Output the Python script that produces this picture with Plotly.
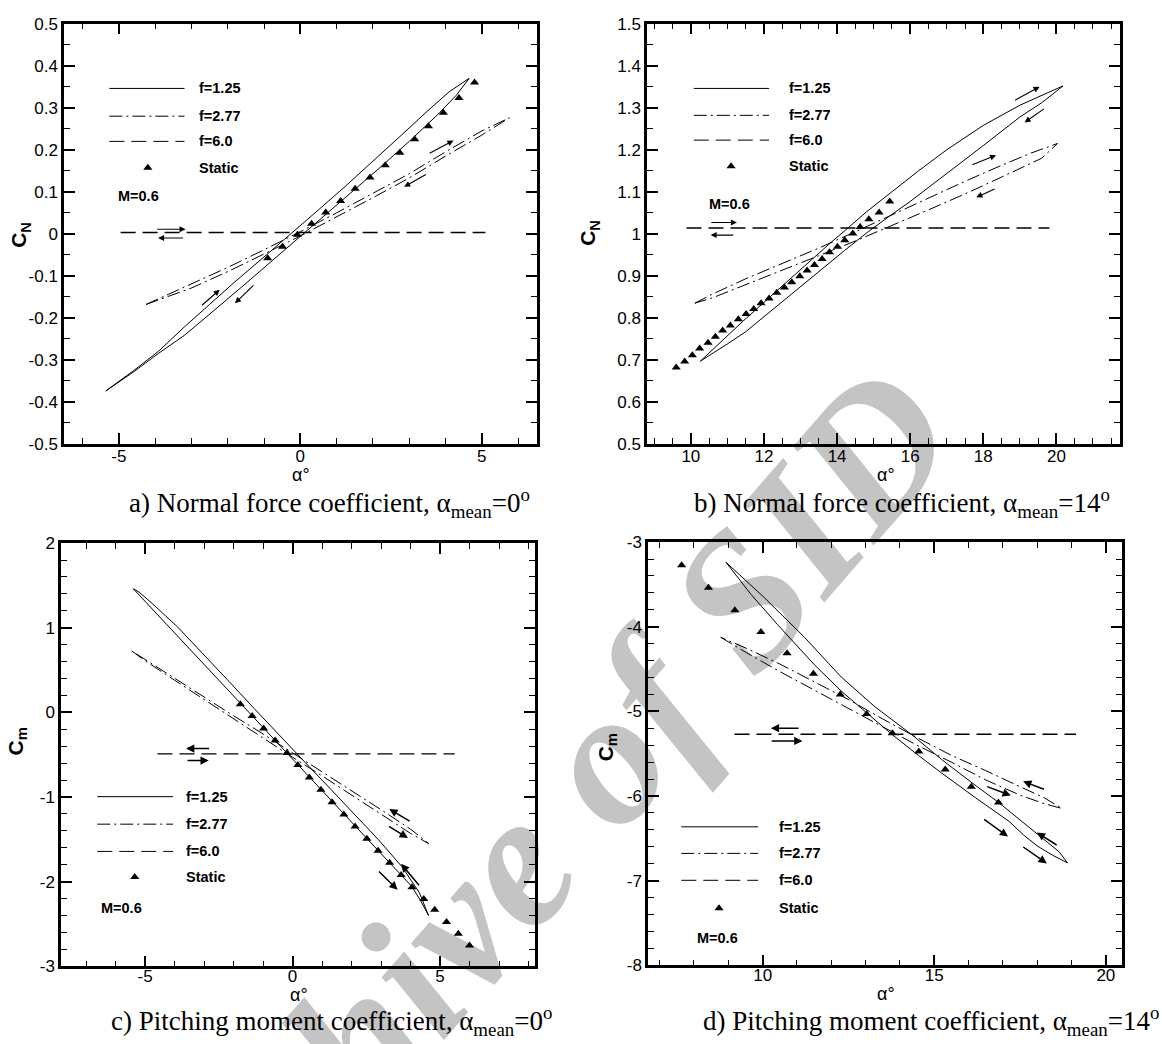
import plotly.graph_objects as go

W, H = 1162, 1044

# ---------------- data ----------------
# Panel a : CN, alpha_mean = 0
a_static_x = [-0.90, -0.49, -0.08, 0.31, 0.70, 1.11, 1.51, 1.92, 2.34, 2.74, 3.15, 3.53, 3.94, 4.37, 4.80]
a_static_y = [-0.058, -0.031, -0.002, 0.024, 0.051, 0.078, 0.107, 0.134, 0.163, 0.193, 0.225, 0.256, 0.288, 0.323, 0.360]
a125_up_x = [-5.36, -4.6, -3.9, -3.2, -2.5, -1.8, -1.0, -0.2, 0.5, 1.2, 2.0, 2.8, 3.5, 4.1, 4.65]
a125_up_y = [-0.374, -0.326, -0.279, -0.222, -0.168, -0.114, -0.055, 0.004, 0.057, 0.110, 0.172, 0.236, 0.292, 0.338, 0.370]
a125_dn_x = [4.65, 4.3, 3.8, 3.0, 2.2, 1.4, 0.6, 0.2, -0.6, -1.5, -2.4, -3.2, -3.9, -4.6, -5.36]
a125_dn_y = [0.370, 0.330, 0.285, 0.220, 0.158, 0.098, 0.040, 0.008, -0.052, -0.118, -0.184, -0.242, -0.284, -0.329, -0.374]
a277_up_x = [-4.25, -3.0, -2.0, -1.0, 0.0, 1.0, 2.0, 3.0, 4.0, 5.0, 5.76]
a277_up_y = [-0.168, -0.119, -0.080, -0.038, 0.005, 0.050, 0.096, 0.143, 0.195, 0.245, 0.276]
a277_dn_x = [5.76, 5.0, 4.0, 3.0, 2.0, 1.0, 0.0, -1.0, -2.0, -3.0, -4.25]
a277_dn_y = [0.276, 0.235, 0.185, 0.133, 0.086, 0.040, -0.005, -0.048, -0.090, -0.129, -0.168]
a600_x = [-4.95, 5.10]
a600_y = [0.003, 0.003]

# Panel b : CN, alpha_mean = 14
b_static_x = [9.60, 9.83, 10.04, 10.24, 10.47, 10.67, 10.87, 11.08, 11.30, 11.51, 11.72, 11.92, 12.14, 12.35,
              12.56, 12.76, 12.98, 13.18, 13.38, 13.59, 13.79, 14.01, 14.21, 14.43, 14.63, 14.87, 15.15, 15.44]
b_static_y = [0.682, 0.696, 0.711, 0.727, 0.741, 0.755, 0.770, 0.782, 0.797, 0.809, 0.821, 0.835, 0.846, 0.860,
              0.872, 0.885, 0.899, 0.913, 0.926, 0.940, 0.956, 0.969, 0.985, 1.001, 1.016, 1.035, 1.051, 1.077]
b125_up_x = [10.26, 10.8, 11.4, 12.0, 12.6, 13.2, 13.8, 14.3, 14.8, 15.5, 16.2, 17.0, 18.0, 19.0, 19.6, 20.18]
b125_up_y = [0.697, 0.742, 0.790, 0.837, 0.884, 0.931, 0.977, 1.014, 1.052, 1.100, 1.148, 1.200, 1.258, 1.306, 1.330, 1.352]
b125_dn_x = [20.18, 19.6, 19.0, 18.0, 17.0, 16.0, 15.4, 14.85, 14.2, 13.5, 12.8, 12.2, 11.5, 11.0, 10.6, 10.26]
b125_dn_y = [1.352, 1.312, 1.278, 1.210, 1.143, 1.077, 1.040, 1.005, 0.960, 0.910, 0.860, 0.816, 0.767, 0.738, 0.716, 0.697]
b277_up_x = [10.11, 10.6, 11.5, 12.5, 13.5, 14.5, 15.5, 16.5, 17.5, 18.5, 19.3, 20.03]
b277_up_y = [0.835, 0.857, 0.893, 0.930, 0.966, 1.005, 1.045, 1.085, 1.125, 1.163, 1.192, 1.215]
b277_dn_x = [20.03, 19.6, 18.5, 17.5, 16.5, 15.5, 14.5, 13.5, 12.5, 11.5, 10.6, 10.11]
b277_dn_y = [1.215, 1.180, 1.135, 1.095, 1.057, 1.020, 0.983, 0.948, 0.913, 0.878, 0.848, 0.835]
b600_x = [9.88, 19.81]
b600_y = [1.014, 1.014]

# Panel c : Cm, alpha_mean = 0
c_static_x = [-1.77, -1.37, -0.98, -0.59, -0.19, 0.18, 0.57, 0.96, 1.34, 1.74, 2.12, 2.52, 2.90, 3.29, 3.68,
              4.05, 4.45, 4.82, 5.22, 5.62, 6.00]
c_static_y = [0.097, -0.043, -0.191, -0.331, -0.479, -0.623, -0.771, -0.915, -1.063, -1.208, -1.348, -1.492,
              -1.636, -1.776, -1.921, -2.065, -2.205, -2.333, -2.476, -2.615, -2.754]
c125_up_x = [-5.40, -4.8, -4.0, -3.2, -2.4, -1.77, -1.0, -0.3, 0.3, 1.0, 1.8, 2.6, 3.4, 4.05, 4.35, 4.61]
c125_up_y = [1.461, 1.238, 0.938, 0.638, 0.338, 0.105, -0.180, -0.440, -0.660, -0.920, -1.215, -1.510, -1.808,
             -2.060, -2.230, -2.400]
c125_dn_x = [4.61, 4.3, 3.7, 2.9, 2.1, 1.3, 0.6, 0.2, -0.5, -1.3, -2.1, -3.0, -3.9, -4.8, -5.2, -5.40]
c125_dn_y = [-2.400, -2.130, -1.820, -1.500, -1.200, -0.910, -0.655, -0.510, -0.255, 0.045, 0.345, 0.680,
             1.010, 1.300, 1.420, 1.461]
c277_up_x = [-5.45, -5.0, -4.0, -3.0, -2.0, -1.0, 0.0, 1.0, 2.0, 3.0, 4.0, 4.62]
c277_up_y = [0.725, 0.610, 0.380, 0.150, -0.080, -0.300, -0.530, -0.750, -0.975, -1.200, -1.430, -1.552]
c277_dn_x = [4.62, 4.0, 3.0, 2.0, 1.0, 0.0, -1.0, -2.0, -3.0, -4.0, -5.0, -5.45]
c277_dn_y = [-1.552, -1.380, -1.150, -0.925, -0.700, -0.480, -0.255, -0.040, 0.180, 0.410, 0.630, 0.725]
c600_x = [-4.58, 5.50]
c600_y = [-0.490, -0.490]

# Panel d : Cm, alpha_mean = 14
d_static_x = [7.64, 8.42, 9.19, 9.95, 10.71, 11.48, 12.26, 13.03, 13.78, 14.55, 15.32, 16.08, 16.87]
d_static_y = [-3.273, -3.539, -3.805, -4.063, -4.313, -4.555, -4.801, -5.031, -5.258, -5.473, -5.688, -5.891, -6.078]
d125_up_x = [8.93, 9.66, 10.44, 11.51, 12.29, 13.08, 13.76, 14.54, 15.22, 16.20, 17.18, 17.6, 18.0, 18.45, 18.88]
d125_up_y = [-3.238, -3.617, -3.977, -4.450, -4.760, -5.040, -5.270, -5.520, -5.730, -6.020, -6.300, -6.460,
             -6.590, -6.700, -6.790]
d125_dn_x = [18.88, 18.64, 18.15, 16.88, 16.10, 15.22, 14.35, 13.27, 12.29, 11.22, 10.05, 9.4, 8.93]
d125_dn_y = [-6.790, -6.660, -6.500, -6.078, -5.844, -5.570, -5.277, -4.945, -4.594, -4.125, -3.656, -3.420, -3.238]
d277_up_x = [8.78, 9.5, 10.5, 11.5, 12.5, 13.5, 14.5, 15.5, 16.5, 17.5, 18.2, 18.72]
d277_up_y = [-4.125, -4.300, -4.530, -4.750, -4.960, -5.180, -5.400, -5.600, -5.810, -5.990, -6.090, -6.147]
d277_dn_x = [18.72, 18.2, 17.5, 16.5, 15.5, 14.5, 13.5, 12.5, 11.5, 10.5, 9.5, 8.78]
d277_dn_y = [-6.147, -6.020, -5.890, -5.700, -5.520, -5.310, -5.090, -4.860, -4.650, -4.440, -4.250, -4.125]
d600_x = [9.18, 19.13]
d600_y = [-5.270, -5.270]

# direction arrows: (tail_x, tail_y, head_x, head_y)
a_arrows = [(-2.75, -0.173, -2.22, -0.133), (-1.25, -0.119, -1.80, -0.165),
            (3.52, 0.190, 4.22, 0.222), (3.50, 0.143, 2.86, 0.112),
            (-3.98, 0.011, -3.16, 0.011), (-3.19, -0.010, -3.92, -0.010)]
b_arrows = [(18.83, 1.316, 19.54, 1.350), (19.70, 1.300, 19.13, 1.265),
            (17.66, 1.163, 18.35, 1.187), (18.35, 1.108, 17.81, 1.087),
            (10.52, 1.027, 11.26, 1.027), (11.20, 0.997, 10.54, 0.997)]
c_arrows = [(2.88, -1.862, 3.56, -2.096), (4.33, -2.060, 3.68, -1.790),
            (4.02, -1.297, 3.28, -1.141), (3.22, -1.336, 3.91, -1.484),
            (-2.78, -0.428, -3.61, -0.428), (-3.61, -0.569, -2.84, -0.569)]
d_arrows = [(16.41, -6.264, 17.15, -6.479), (17.55, -6.590, 18.28, -6.797), (18.61, -6.590, 17.99, -6.431),
            (18.24, -5.926, 17.59, -5.827), (16.50, -5.883, 17.23, -5.994),
            (11.09, -5.199, 10.24, -5.199), (10.22, -5.350, 11.16, -5.350)]

# tick values / labels
a_xticks = [-5, 0, 5]
a_xlabels = ["-5", "0", "5"]
a_yticks = [0.5, 0.4, 0.3, 0.2, 0.1, 0.0, -0.1, -0.2, -0.3, -0.4, -0.5]
a_ylabels = ["0.5", "0.4", "0.3", "0.2", "0.1", "0", "-0.1", "-0.2", "-0.3", "-0.4", "-0.5"]
b_xticks = [10, 12, 14, 16, 18, 20]
b_xlabels = ["10", "12", "14", "16", "18", "20"]
b_yticks = [1.5, 1.4, 1.3, 1.2, 1.1, 1.0, 0.9, 0.8, 0.7, 0.6, 0.5]
b_ylabels = ["1.5", "1.4", "1.3", "1.2", "1.1", "1", "0.9", "0.8", "0.7", "0.6", "0.5"]
c_xticks = [-5, 0, 5]
c_xlabels = ["-5", "0", "5"]
c_yticks = [2, 1, 0, -1, -2, -3]
c_ylabels = ["2", "1", "0", "-1", "-2", "-3"]
d_xticks = [10, 15, 20]
d_xlabels = ["10", "15", "20"]
d_yticks = [-3, -4, -5, -6, -7, -8]
d_ylabels = ["-3", "-4", "-5", "-6", "-7", "-8"]

legend_labels = ["f=1.25", "f=2.77", "f=6.0", "Static"]
mach_label = "M=0.6"
captions = ["a) Normal force coefficient, α<sub>mean</sub>=0<sup>o</sup>",
            "b) Normal force coefficient, α<sub>mean</sub>=14<sup>o</sup>",
            "c) Pitching moment coefficient, α<sub>mean</sub>=0<sup>o</sup>",
            "d) Pitching moment coefficient, α<sub>mean</sub>=14<sup>o</sup>"]
ytitles = ["C<sub>N</sub>", "C<sub>N</sub>", "C<sub>m</sub>", "C<sub>m</sub>"]
xtitle = "α°"
watermark = "Archive of SID"

# ---------------- styling / layout constants ----------------
SOLID = "solid"
DASHDOT = "13px,4px,2px,4px"
DASHED = "15px,7px"
SANS = "Liberation Sans"
SERIF = "Liberation Serif"

# legend placement per panel (data units)
legends = [
    dict(x0=-5.26, x1=-3.19, tx=-2.85, ys=[0.346, 0.280, 0.220, 0.157], mx=-4.47, my=0.091, trix=-4.20),
    dict(x0=10.08, x1=12.14, tx=12.63, ys=[1.346, 1.282, 1.223, 1.161], mx=11.05, my=1.070, trix=11.10),
    dict(x0=-6.62, x1=-4.05, tx=-3.67, ys=[-0.996, -1.321, -1.643, -1.945], mx=-5.81, my=-2.317, trix=-5.35),
    dict(x0=7.63, x1=9.87, tx=10.43, ys=[-6.364, -6.678, -6.996, -7.326], mx=8.68, my=-7.676, trix=8.73),
]

def px(xp):
    return xp / W

def py(yp):
    return 1 - yp / H

domains = [
    ([px(64), px(537)], [py(443), py(15)]),
    ([px(647), px(1120)], [py(443), py(15)]),
    ([px(61), px(535)], [py(975), py(544)]),
    ([px(648), px(1122)], [py(974), py(543)]),
]
ranges = [([-6.51, 6.52], [-0.5, 0.5]),
          ([8.80, 21.74], [0.5, 1.5]),
          ([-7.85, 8.22], [-3, 2]),
          ([6.66, 20.47], [-8, -3])]
minor_dt = [(1, 0.05), (0.5, 0.05), (1, 0.2), (1, 0.2)]
xlabel_standoff = [-5, -5, -7, -7]
ticks = [(a_xticks, a_xlabels, a_yticks, a_ylabels),
         (b_xticks, b_xlabels, b_yticks, b_ylabels),
         (c_xticks, c_xlabels, c_yticks, c_ylabels),
         (d_xticks, d_xlabels, d_yticks, d_ylabels)]

caption_pos = [(329, 503), (902, 503), (331, 1031), (931, 1031)]
ytitle_pos = [(20, 230), (589, 228), (17, 746), (607, 752)]
xtitle_pos = [(301, 475), (886, 475), (299, 1004), (886, 1003)]

fig = go.Figure()

panels = [
    dict(xa="x", ya="y", static=(a_static_x, a_static_y),
         loops=[(a125_up_x, a125_up_y, a125_dn_x, a125_dn_y, SOLID),
                (a277_up_x, a277_up_y, a277_dn_x, a277_dn_y, DASHDOT)],
         f6=(a600_x, a600_y), arrows=a_arrows, aw=1.1),
    dict(xa="x2", ya="y2", static=(b_static_x, b_static_y),
         loops=[(b125_up_x, b125_up_y, b125_dn_x, b125_dn_y, SOLID),
                (b277_up_x, b277_up_y, b277_dn_x, b277_dn_y, DASHDOT)],
         f6=(b600_x, b600_y), arrows=b_arrows, aw=1.1),
    dict(xa="x3", ya="y3", static=(c_static_x, c_static_y),
         loops=[(c125_up_x, c125_up_y, c125_dn_x, c125_dn_y, SOLID),
                (c277_up_x, c277_up_y, c277_dn_x, c277_dn_y, DASHDOT)],
         f6=(c600_x, c600_y), arrows=c_arrows, aw=1.5),
    dict(xa="x4", ya="y4", static=(d_static_x, d_static_y),
         loops=[(d125_up_x, d125_up_y, d125_dn_x, d125_dn_y, SOLID),
                (d277_up_x, d277_up_y, d277_dn_x, d277_dn_y, DASHDOT)],
         f6=(d600_x, d600_y), arrows=d_arrows, aw=1.5),
]

annotations = []
shapes = []

# watermark (drawn beneath everything)
wc = (509, 841)
wd = (0.656, -0.755)
shapes.append(dict(
    type="line", xref="paper", yref="paper", layer="below",
    x0=px(wc[0] - 50 * wd[0]), y0=py(wc[1] - 50 * wd[1]),
    x1=px(wc[0] + 50 * wd[0]), y1=py(wc[1] + 50 * wd[1]),
    line=dict(color="rgba(0,0,0,0)", width=0),
    label=dict(text="<b><i>" + watermark + "</i></b>", textangle=-49, textposition="middle",
               xanchor="center", yanchor="middle", padding=0,
               font=dict(family=SERIF, size=192, color="#c4c4c4")),
))

for i, p in enumerate(panels):
    xa, ya = p["xa"], p["ya"]
    for (ux, uy, dx, dy, dash) in p["loops"]:
        fig.add_trace(go.Scatter(x=ux + dx[1:], y=uy + dy[1:], mode="lines",
                                 line=dict(color="black", width=1, dash=dash),
                                 xaxis=xa, yaxis=ya, showlegend=False, hoverinfo="skip"))
    fig.add_trace(go.Scatter(x=p["f6"][0], y=p["f6"][1], mode="lines",
                             line=dict(color="black", width=1.4, dash=DASHED),
                             xaxis=xa, yaxis=ya, showlegend=False, hoverinfo="skip"))
    fig.add_trace(go.Scatter(x=p["static"][0], y=p["static"][1], mode="markers",
                             marker=dict(symbol="triangle-up", size=8, color="black"),
                             xaxis=xa, yaxis=ya, showlegend=False, hoverinfo="skip"))
    # arrows
    for (tx, ty, hx, hy) in p["arrows"]:
        annotations.append(dict(x=hx, y=hy, ax=tx, ay=ty, xref=xa, yref=ya, axref=xa, ayref=ya,
                                text="", showarrow=True, arrowhead=2, arrowsize=1.1,
                                arrowwidth=p["aw"], arrowcolor="black", standoff=0, startstandoff=0))
    # legend
    lg = legends[i]
    for dash, yv in zip([SOLID, DASHDOT, DASHED], lg["ys"][:3]):
        shapes.append(dict(type="line", xref=xa, yref=ya, x0=lg["x0"], x1=lg["x1"], y0=yv, y1=yv,
                           line=dict(color="black", width=1, dash=dash)))
    fig.add_trace(go.Scatter(x=[lg["trix"]], y=[lg["ys"][3]], mode="markers",
                             marker=dict(symbol="triangle-up", size=8, color="black"),
                             xaxis=xa, yaxis=ya, showlegend=False, hoverinfo="skip"))
    for lab, yv in zip(legend_labels, lg["ys"]):
        annotations.append(dict(x=lg["tx"], y=yv, xref=xa, yref=ya, text="<b>" + lab + "</b>",
                                showarrow=False, xanchor="left", yanchor="middle",
                                font=dict(family=SANS, size=14.5, color="black")))
    annotations.append(dict(x=lg["mx"], y=lg["my"], xref=xa, yref=ya, text="<b>" + mach_label + "</b>",
                            showarrow=False, xanchor="center", yanchor="middle",
                            font=dict(family=SANS, size=14.5, color="black")))
    # titles and captions
    cx, cy = caption_pos[i]
    annotations.append(dict(x=px(cx), y=py(cy), xref="paper", yref="paper", text=captions[i],
                            showarrow=False, xanchor="center", yanchor="middle",
                            font=dict(family=SERIF, size=27, color="black")))
    tx_, ty_ = ytitle_pos[i]
    annotations.append(dict(x=px(tx_), y=py(ty_), xref="paper", yref="paper",
                            text="<b>" + ytitles[i] + "</b>", textangle=-90,
                            showarrow=False, xanchor="center", yanchor="middle",
                            font=dict(family=SANS, size=21, color="black")))
    ax_, ay_ = xtitle_pos[i]
    annotations.append(dict(x=px(ax_), y=py(ay_), xref="paper", yref="paper",
                            text=xtitle, showarrow=False, xanchor="center", yanchor="middle",
                            borderpad=0, font=dict(family=SANS, size=18, color="black")))

layout = dict(width=W, height=H, margin=dict(l=0, r=0, t=0, b=0),
              paper_bgcolor="white", plot_bgcolor="rgba(0,0,0,0)",
              showlegend=False, annotations=annotations, shapes=shapes)

axis_common = dict(ticks="inside", ticklen=11, tickwidth=2, tickcolor="black",
                   showline=True, linewidth=2.5, linecolor="black", mirror="allticks",
                   showgrid=False, zeroline=False, tickmode="array",
                   tickfont=dict(family=SANS, size=17, color="black"))

for i in range(4):
    sfx = "" if i == 0 else str(i + 1)
    (xd, yd) = domains[i]
    (xr, yr) = ranges[i]
    (xt, xl, yt, yl) = ticks[i]
    mx, my = minor_dt[i]
    layout["xaxis" + sfx] = dict(axis_common, domain=xd, range=xr, tickvals=xt, ticktext=xl,
                                 anchor="y" + sfx, ticklabelstandoff=xlabel_standoff[i],
                                 minor=dict(ticks="inside", ticklen=6, tickwidth=1.2, tickcolor="black",
                                            dtick=mx, tick0=0, showgrid=False))
    layout["yaxis" + sfx] = dict(axis_common, domain=yd, range=yr, tickvals=yt, ticktext=yl,
                                 anchor="x" + sfx,
                                 minor=dict(ticks="inside", ticklen=6, tickwidth=1.2, tickcolor="black",
                                            dtick=my, tick0=0, showgrid=False))

fig.update_layout(**layout)

fig.write_html("out.html", include_plotlyjs=True, full_html=True,
               config={"displayModeBar": False},
               post_script="document.body.style.margin='0';document.body.style.overflow='hidden';")
